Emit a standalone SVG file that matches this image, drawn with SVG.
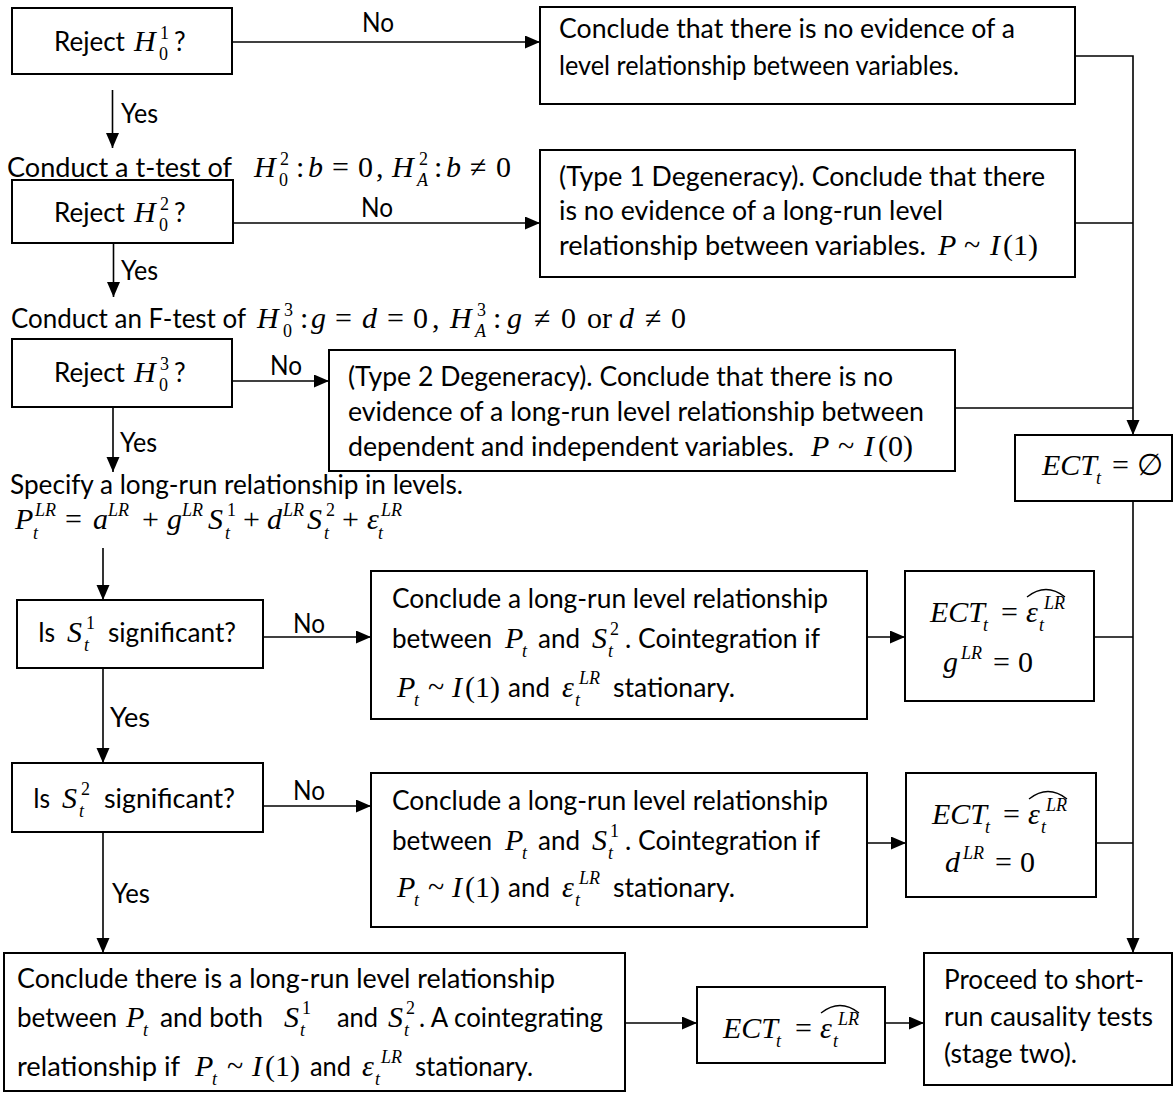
<svg xmlns="http://www.w3.org/2000/svg" width="1175" height="1096" viewBox="0 0 1175 1096">
<style>
.box{fill:#fff;stroke:#000;stroke-width:2}
.t{font-family:Lato,"Liberation Sans",sans-serif;font-size:26px;fill:#000}
.m{font-family:"Liberation Serif","DejaVu Serif",serif;font-style:italic;font-size:30px;fill:#000}
.mr{font-family:"Liberation Serif","DejaVu Serif",serif;font-size:30px;fill:#000}
.si{font-family:"Liberation Serif","DejaVu Serif",serif;font-style:italic;font-size:18px;fill:#000}
.s{font-family:"Liberation Serif","DejaVu Serif",serif;font-size:18px;fill:#000}
.conn path{fill:none;stroke:#000;stroke-width:1.6}
.hat{fill:none;stroke:#000;stroke-width:1.3}
</style>
<defs>
<marker id="ah" markerUnits="userSpaceOnUse" markerWidth="16" markerHeight="14" viewBox="0 0 16 14" refX="15" refY="6.5" orient="auto"><path d="M0,0 L15,6.5 L0,13 z" fill="#000"/></marker>
</defs>

<g id="connectors" class="conn">
<path d="M232,42 H540" marker-end="url(#ah)"/>
<path d="M112.5,90 V148" marker-end="url(#ah)"/>
<path d="M233,223 H540" marker-end="url(#ah)"/>
<path d="M113.5,243 V297" marker-end="url(#ah)"/>
<path d="M232,381 H329" marker-end="url(#ah)"/>
<path d="M113,407 V472" marker-end="url(#ah)"/>
<path d="M1075,56 H1133 V435" marker-end="url(#ah)"/>
<path d="M1075,223 H1133"/>
<path d="M955,408 H1133"/>
<path d="M1133,501 V953" marker-end="url(#ah)"/>
<path d="M1094,637 H1133"/>
<path d="M1096,843 H1133"/>
<path d="M103,548 V600" marker-end="url(#ah)"/>
<path d="M263,637 H371" marker-end="url(#ah)"/>
<path d="M103,668 V763" marker-end="url(#ah)"/>
<path d="M263,806 H371" marker-end="url(#ah)"/>
<path d="M103,832 V953" marker-end="url(#ah)"/>
<path d="M867,637 H905" marker-end="url(#ah)"/>
<path d="M867,843 H906" marker-end="url(#ah)"/>
<path d="M625,1023 H697" marker-end="url(#ah)"/>
<path d="M885,1023 H924" marker-end="url(#ah)"/>
</g>

<g id="labels">
<text class="t" x="362" y="32" textLength="32" lengthAdjust="spacingAndGlyphs">No</text>
<text class="t" x="361" y="217" textLength="32" lengthAdjust="spacingAndGlyphs">No</text>
<text class="t" x="270" y="375" textLength="32" lengthAdjust="spacingAndGlyphs">No</text>
<text class="t" x="293" y="633" textLength="32" lengthAdjust="spacingAndGlyphs">No</text>
<text class="t" x="293" y="800" textLength="32" lengthAdjust="spacingAndGlyphs">No</text>
<text class="t" x="121" y="123" textLength="37" lengthAdjust="spacingAndGlyphs">Yes</text>
<text class="t" x="121" y="280" textLength="37" lengthAdjust="spacingAndGlyphs">Yes</text>
<text class="t" x="120" y="452" textLength="37" lengthAdjust="spacingAndGlyphs">Yes</text>
<text class="t" x="110" y="727" textLength="40" lengthAdjust="spacingAndGlyphs">Yes</text>
<text class="t" x="112" y="903" textLength="38" lengthAdjust="spacingAndGlyphs">Yes</text>
</g>

<g id="n1">
<rect class="box" x="12" y="8" width="220" height="66"/>
<text class="t" x="54" y="51">Reject</text>
<text class="m" x="134" y="51">H</text>
<text class="s" x="159" y="60">0</text>
<text class="s" x="160" y="39">1</text>
<text class="t" x="174" y="51">?</text>
</g>

<g id="n2">
<rect class="box" x="540" y="7" width="535" height="97"/>
<text class="t" x="559" y="38" textLength="456" lengthAdjust="spacingAndGlyphs">Conclude that there is no evidence of a</text>
<text class="t" x="559" y="75" textLength="400" lengthAdjust="spacingAndGlyphs">level relationship between variables.</text>
</g>

<g id="ttest">
<text class="t" x="7" y="177" textLength="225" lengthAdjust="spacingAndGlyphs">Conduct a t-test of</text>
<text class="m" x="254" y="177">H</text>
<text class="s" x="279" y="186">0</text>
<text class="s" x="280" y="165">2</text>
<text class="mr" x="296" y="177">:</text>
<text class="m" x="308" y="177">b</text>
<text class="mr" x="332" y="177">=</text>
<text class="mr" x="358" y="177">0</text>
<text class="mr" x="376" y="177">,</text>
<text class="m" x="392" y="177">H</text>
<text class="si" x="417" y="186">A</text>
<text class="s" x="419" y="165">2</text>
<text class="mr" x="434" y="177">:</text>
<text class="m" x="446" y="177">b</text>
<text class="mr" x="470" y="177">≠</text>
<text class="mr" x="496" y="177">0</text>
</g>

<g id="n3">
<rect class="box" x="12" y="180" width="221" height="63"/>
<text class="t" x="54" y="222">Reject</text>
<text class="m" x="134" y="222">H</text>
<text class="s" x="159" y="231">0</text>
<text class="s" x="160" y="210">2</text>
<text class="t" x="174" y="222">?</text>
</g>

<g id="n4">
<rect class="box" x="540" y="150" width="535" height="127"/>
<text class="t" x="559" y="186" textLength="486" lengthAdjust="spacingAndGlyphs">(Type 1 Degeneracy). Conclude that there</text>
<text class="t" x="559" y="220" textLength="384" lengthAdjust="spacingAndGlyphs">is no evidence of a long-run level</text>
<text class="t" x="559" y="255" textLength="367" lengthAdjust="spacingAndGlyphs">relationship between variables.</text>
<text class="m" x="938" y="255">P</text>
<text class="mr" x="964" y="255">~</text>
<text class="m" x="990" y="255">I</text>
<text class="mr" x="1003" y="255">(1)</text>
</g>

<g id="ftest">
<text class="t" x="11" y="328" textLength="235" lengthAdjust="spacingAndGlyphs">Conduct an F-test of</text>
<text class="m" x="257" y="328">H</text>
<text class="s" x="283" y="337">0</text>
<text class="s" x="284" y="316">3</text>
<text class="mr" x="300" y="328">:</text>
<text class="m" x="311" y="328">g</text>
<text class="mr" x="335" y="328">=</text>
<text class="m" x="362" y="328">d</text>
<text class="mr" x="387" y="328">=</text>
<text class="mr" x="413" y="328">0</text>
<text class="mr" x="432" y="328">,</text>
<text class="m" x="450" y="328">H</text>
<text class="si" x="475" y="337">A</text>
<text class="s" x="477" y="316">3</text>
<text class="mr" x="493" y="328">:</text>
<text class="m" x="507" y="328">g</text>
<text class="mr" x="534" y="328">≠</text>
<text class="mr" x="561" y="328">0</text>
<text class="mr" x="587" y="328">or</text>
<text class="m" x="619" y="328">d</text>
<text class="mr" x="645" y="328">≠</text>
<text class="mr" x="671" y="328">0</text>
</g>

<g id="n5">
<rect class="box" x="12" y="339" width="220" height="68"/>
<text class="t" x="54" y="382">Reject</text>
<text class="m" x="134" y="382">H</text>
<text class="s" x="159" y="391">0</text>
<text class="s" x="160" y="370">3</text>
<text class="t" x="174" y="382">?</text>
</g>

<g id="n6">
<rect class="box" x="329" y="350" width="626" height="121"/>
<text class="t" x="348" y="386" textLength="545" lengthAdjust="spacingAndGlyphs">(Type 2 Degeneracy). Conclude that there is no</text>
<text class="t" x="348" y="421" textLength="576" lengthAdjust="spacingAndGlyphs">evidence of a long-run level relationship between</text>
<text class="t" x="348" y="456" textLength="446" lengthAdjust="spacingAndGlyphs">dependent and independent variables.</text>
<text class="m" x="811" y="456">P</text>
<text class="mr" x="838" y="456">~</text>
<text class="m" x="864" y="456">I</text>
<text class="mr" x="878" y="456">(0)</text>
</g>

<g id="n16">
<rect class="box" x="1015" y="435" width="157" height="66"/>
<text class="m" x="1042" y="475">ECT</text>
<text class="si" x="1096" y="484">t</text>
<text class="mr" x="1112" y="475">=</text>
<text class="mr" x="1137" y="475">∅</text>
</g>

<g id="spec">
<text class="t" x="10" y="494" textLength="453" lengthAdjust="spacingAndGlyphs">Specify a long-run relationship in levels.</text>
<text class="m" x="15" y="529">P</text>
<text class="si" x="33" y="539">t</text>
<text class="si" x="35" y="516">LR</text>
<text class="mr" x="65" y="529">=</text>
<text class="m" x="93" y="529">a</text>
<text class="si" x="108" y="516">LR</text>
<text class="mr" x="142" y="529">+</text>
<text class="m" x="167" y="529">g</text>
<text class="si" x="182" y="516">LR</text>
<text class="m" x="208" y="529">S</text>
<text class="si" x="225" y="539">t</text>
<text class="s" x="227" y="516">1</text>
<text class="mr" x="243" y="529">+</text>
<text class="m" x="267" y="529">d</text>
<text class="si" x="283" y="516">LR</text>
<text class="m" x="307" y="529">S</text>
<text class="si" x="324" y="539">t</text>
<text class="s" x="326" y="516">2</text>
<text class="mr" x="342" y="529">+</text>
<text class="m" x="367" y="529">ε</text>
<text class="si" x="378" y="539">t</text>
<text class="si" x="381" y="516">LR</text>
</g>

<g id="n7">
<rect class="box" x="17" y="600" width="246" height="68"/>
<text class="t" x="38" y="642" textLength="17" lengthAdjust="spacingAndGlyphs">Is</text>
<text class="m" x="67" y="642">S</text>
<text class="si" x="84" y="651">t</text>
<text class="s" x="86" y="629">1</text>
<text class="t" x="108" y="642" textLength="128" lengthAdjust="spacingAndGlyphs">significant?</text>
</g>

<g id="n8">
<rect class="box" x="12" y="763" width="251" height="69"/>
<text class="t" x="33" y="808" textLength="17" lengthAdjust="spacingAndGlyphs">Is</text>
<text class="m" x="62" y="808">S</text>
<text class="si" x="79" y="817">t</text>
<text class="s" x="81" y="795">2</text>
<text class="t" x="104" y="808" textLength="131" lengthAdjust="spacingAndGlyphs">significant?</text>
</g>

<g id="n9">
<rect class="box" x="371" y="571" width="496" height="148"/>
<text class="t" x="392" y="608" textLength="436" lengthAdjust="spacingAndGlyphs">Conclude a long-run level relationship</text>
<text class="t" x="392" y="648" textLength="100" lengthAdjust="spacingAndGlyphs">between</text>
<text class="m" x="505" y="648">P</text>
<text class="si" x="522" y="657">t</text>
<text class="t" x="538" y="648" textLength="42" lengthAdjust="spacingAndGlyphs">and</text>
<text class="m" x="592" y="648">S</text>
<text class="si" x="608" y="657">t</text>
<text class="s" x="610" y="635">2</text>
<text class="t" x="625" y="648" textLength="195" lengthAdjust="spacingAndGlyphs">. Cointegration if</text>
<text class="m" x="397" y="697">P</text>
<text class="si" x="414" y="706">t</text>
<text class="mr" x="428" y="697">~</text>
<text class="m" x="452" y="697">I</text>
<text class="mr" x="465" y="697">(1)</text>
<text class="t" x="508" y="697" textLength="42" lengthAdjust="spacingAndGlyphs">and</text>
<text class="m" x="562" y="697">ε</text>
<text class="si" x="575" y="706">t</text>
<text class="si" x="579" y="684">LR</text>
<text class="t" x="613" y="697" textLength="122" lengthAdjust="spacingAndGlyphs">stationary.</text>
</g>

<g id="n10">
<rect class="box" x="371" y="773" width="496" height="154"/>
<text class="t" x="392" y="810" textLength="436" lengthAdjust="spacingAndGlyphs">Conclude a long-run level relationship</text>
<text class="t" x="392" y="850" textLength="100" lengthAdjust="spacingAndGlyphs">between</text>
<text class="m" x="505" y="850">P</text>
<text class="si" x="522" y="859">t</text>
<text class="t" x="538" y="850" textLength="42" lengthAdjust="spacingAndGlyphs">and</text>
<text class="m" x="592" y="850">S</text>
<text class="si" x="608" y="859">t</text>
<text class="s" x="610" y="837">1</text>
<text class="t" x="625" y="850" textLength="195" lengthAdjust="spacingAndGlyphs">. Cointegration if</text>
<text class="m" x="397" y="897">P</text>
<text class="si" x="414" y="906">t</text>
<text class="mr" x="428" y="897">~</text>
<text class="m" x="452" y="897">I</text>
<text class="mr" x="465" y="897">(1)</text>
<text class="t" x="508" y="897" textLength="42" lengthAdjust="spacingAndGlyphs">and</text>
<text class="m" x="562" y="897">ε</text>
<text class="si" x="575" y="906">t</text>
<text class="si" x="579" y="884">LR</text>
<text class="t" x="613" y="897" textLength="122" lengthAdjust="spacingAndGlyphs">stationary.</text>
</g>

<g id="n11">
<rect class="box" x="905" y="571" width="189" height="130"/>
<text class="m" x="930" y="622">ECT</text>
<text class="si" x="983" y="631">t</text>
<text class="mr" x="1001" y="622">=</text>
<text class="m" x="1026" y="622">ε</text>
<text class="si" x="1039" y="631">t</text>
<text class="si" x="1044" y="609">LR</text>
<path class="hat" d="M1027,597 Q1046,582 1065,597"/>
<text class="m" x="943" y="672">g</text>
<text class="si" x="961" y="659">LR</text>
<text class="mr" x="993" y="672">=</text>
<text class="mr" x="1018" y="672">0</text>
</g>

<g id="n12">
<rect class="box" x="906" y="773" width="190" height="124"/>
<text class="m" x="932" y="824">ECT</text>
<text class="si" x="985" y="833">t</text>
<text class="mr" x="1003" y="824">=</text>
<text class="m" x="1028" y="824">ε</text>
<text class="si" x="1041" y="833">t</text>
<text class="si" x="1046" y="811">LR</text>
<path class="hat" d="M1029,799 Q1048,784 1067,799"/>
<text class="m" x="945" y="872">d</text>
<text class="si" x="963" y="859">LR</text>
<text class="mr" x="995" y="872">=</text>
<text class="mr" x="1020" y="872">0</text>
</g>

<g id="n13">
<rect class="box" x="4" y="953" width="621" height="138"/>
<text class="t" x="17" y="988" textLength="538" lengthAdjust="spacingAndGlyphs">Conclude there is a long-run level relationship</text>
<text class="t" x="17" y="1027" textLength="100" lengthAdjust="spacingAndGlyphs">between</text>
<text class="m" x="126" y="1027">P</text>
<text class="si" x="143" y="1036">t</text>
<text class="t" x="160" y="1027" textLength="103" lengthAdjust="spacingAndGlyphs">and both</text>
<text class="m" x="284" y="1027">S</text>
<text class="si" x="300" y="1036">t</text>
<text class="s" x="302" y="1014">1</text>
<text class="t" x="337" y="1027" textLength="41" lengthAdjust="spacingAndGlyphs">and</text>
<text class="m" x="388" y="1027">S</text>
<text class="si" x="404" y="1036">t</text>
<text class="s" x="406" y="1014">2</text>
<text class="t" x="419" y="1027" textLength="184" lengthAdjust="spacingAndGlyphs">. A cointegrating</text>
<text class="t" x="17" y="1076" textLength="163" lengthAdjust="spacingAndGlyphs">relationship if</text>
<text class="m" x="195" y="1076">P</text>
<text class="si" x="212" y="1085">t</text>
<text class="mr" x="227" y="1076">~</text>
<text class="m" x="252" y="1076">I</text>
<text class="mr" x="265" y="1076">(1)</text>
<text class="t" x="310" y="1076" textLength="41" lengthAdjust="spacingAndGlyphs">and</text>
<text class="m" x="362" y="1076">ε</text>
<text class="si" x="375" y="1085">t</text>
<text class="si" x="381" y="1063">LR</text>
<text class="t" x="415" y="1076" textLength="118" lengthAdjust="spacingAndGlyphs">stationary.</text>
</g>

<g id="n14">
<rect class="box" x="697" y="987" width="188" height="76"/>
<text class="m" x="723" y="1038">ECT</text>
<text class="si" x="776" y="1047">t</text>
<text class="mr" x="795" y="1038">=</text>
<text class="m" x="820" y="1038">ε</text>
<text class="si" x="833" y="1047">t</text>
<text class="si" x="838" y="1025">LR</text>
<path class="hat" d="M821,1013 Q840,998 859,1013"/>
</g>

<g id="n15">
<rect class="box" x="924" y="953" width="248" height="132"/>
<text class="t" x="944" y="989" textLength="200" lengthAdjust="spacingAndGlyphs">Proceed to short-</text>
<text class="t" x="944" y="1026" textLength="209" lengthAdjust="spacingAndGlyphs">run causality tests</text>
<text class="t" x="944" y="1063" textLength="133" lengthAdjust="spacingAndGlyphs">(stage two).</text>
</g>
</svg>
